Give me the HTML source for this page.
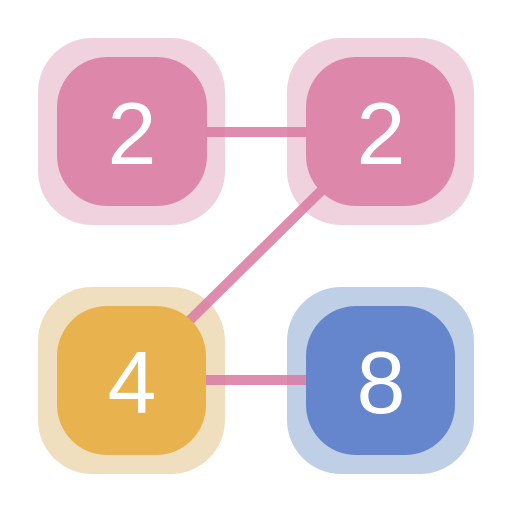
<!DOCTYPE html>
<html><head><style>
html,body{margin:0;padding:0;background:#fff;width:512px;height:512px;overflow:hidden}
</style></head><body>
<svg width="512" height="512" viewBox="0 0 512 512" xmlns="http://www.w3.org/2000/svg">
<rect x="38" y="38" width="187" height="187" rx="54" fill="#f0d2de"/>
<rect x="287" y="38" width="187" height="187" rx="54" fill="#f0d2de"/>
<rect x="38" y="287" width="187" height="187" rx="54" fill="#f0dfbf"/>
<rect x="287" y="287" width="187" height="187" rx="54" fill="#bfcfe6"/>
<g stroke="#d97aa2" stroke-width="10" opacity="0.85">
<line x1="200" y1="132" x2="312" y2="132"/>
<line x1="326" y1="186" x2="187" y2="323"/>
<line x1="200" y1="380" x2="312" y2="380"/>
</g>
<rect x="57" y="57" width="150" height="149" rx="50" fill="#dd88aa"/>
<rect x="306" y="57" width="149" height="149" rx="50" fill="#dd88aa"/>
<rect x="57" y="306" width="149" height="149" rx="50" fill="#e8b24e"/>
<rect x="306" y="306" width="149" height="149" rx="50" fill="#6586cd"/>
<g font-family="Liberation Sans, sans-serif" font-size="88" fill="#fff" text-anchor="middle">
<text x="132" y="164">2</text>
<text x="381" y="164">2</text>
<text x="132" y="413">4</text>
<text x="381" y="413">8</text>
</g>
</svg>
</body></html>
